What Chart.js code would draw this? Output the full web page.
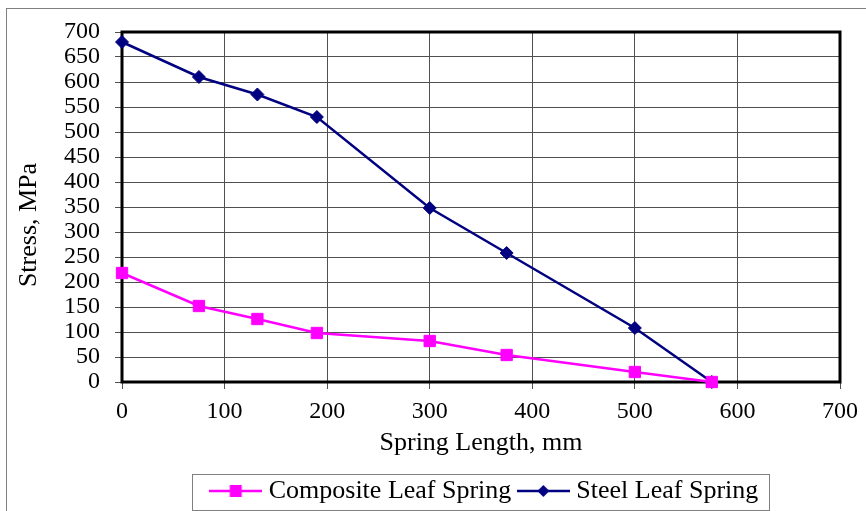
<!DOCTYPE html>
<html>
<head>
<meta charset="utf-8">
<script src="https://cdn.jsdelivr.net/npm/chart.js@4/dist/chart.umd.min.js"></script>
<style>
html, body { margin: 0; padding: 0; background: #fff; }
#wrap { width: 866px; height: 511px; }
</style>
</head>
<body>
<div id="wrap"><canvas id="stressChart" width="866" height="511"></canvas></div>
<script>
// spring length (mm) at each measuring point
const lengthMm = [0, 75, 132, 190, 300, 375, 500, 575];
const compositeStress = [218, 152, 126, 98, 82, 54, 20, 0];
const steelStress = [680, 610, 575, 530, 348, 258, 108, 0];

const xTicks = [0, 100, 200, 300, 400, 500, 600, 700];
const yTicks = [0, 50, 100, 150, 200, 250, 300, 350, 400, 450, 500, 550, 600, 650, 700];

const yTitle = "Stress, MPa";
const xTitle = "Spring Length, mm";

const FONT = "'Liberation Serif', 'Times New Roman', serif";

function legendIcon(color, shape){
  const c = document.createElement("canvas");
  c.width = 53;
  c.height = 18;
  const g = c.getContext("2d");
  g.strokeStyle = color;
  g.lineWidth = 2.5;
  g.beginPath();
  g.moveTo(0, 9);
  g.lineTo(53, 9);
  g.stroke();
  g.fillStyle = color;
  g.beginPath();
  if(shape === "square"){
    g.rect(20.5, 3, 12, 12);
  }else{
    g.moveTo(26.5, 3);
    g.lineTo(32.5, 9);
    g.lineTo(26.5, 15);
    g.lineTo(20.5, 9);
    g.closePath();
  }
  g.fill();
  return c;
}

function pairs(xs, ys){
  return xs.map(function(x, i){ return {x: x, y: ys[i]}; });
}

const frames = {
  id: "frames",
  afterLayout(chart){
    // centre the legend under the plot area and drop it to the bottom
    const lg = chart.legend;
    const a = chart.chartArea;
    const dx = (a.left + a.right) / 2 + 6 - (lg.left + lg.right) / 2;
    lg.left += dx;
    lg.right += dx;
    const h = lg.bottom - lg.top;
    lg.top = 466;
    lg.bottom = lg.top + h;
  },
  beforeDatasetsDraw(chart){
    const a = chart.chartArea;
    const ctx = chart.ctx;
    ctx.save();
    ctx.strokeStyle = "#000";
    ctx.lineWidth = 3;
    ctx.strokeRect(a.left, a.top, a.right - a.left, a.bottom - a.top);
    ctx.restore();
  },
  afterDraw(chart){
    const ctx = chart.ctx;
    ctx.save();
    // outer chart frame
    ctx.strokeStyle = "#808080";
    ctx.lineWidth = 1;
    ctx.strokeRect(6.5, 8.5, 900, 600);
    // y axis title, sitting a little below the axis middle as in the original
    ctx.fillStyle = "#000";
    ctx.font = "26px " + FONT;
    ctx.textAlign = "center";
    ctx.textBaseline = "middle";
    ctx.translate(29, 225);
    ctx.rotate(-Math.PI / 2);
    ctx.fillText(yTitle, 0, 0);
    ctx.setTransform(1, 0, 0, 1, 0, 0);
    // legend box
    const boxes = chart.legend.legendHitBoxes;
    if(boxes && boxes.length){
      let l = Infinity, r = -Infinity;
      boxes.forEach(function(hb){
        l = Math.min(l, hb.left);
        r = Math.max(r, hb.left + hb.width);
      });
      ctx.strokeStyle = "#808080";
      ctx.strokeRect(Math.round(l - 24) + 0.5, 474.5, Math.round(r - l + 34), 36);
    }
    ctx.restore();
  }
};

new Chart(
  document.getElementById("stressChart"),
  {
    type: "line",
    data: {
      datasets: [
        {
          label: "Composite Leaf Spring",
          data: pairs(lengthMm, compositeStress),
          borderColor: "#FF00FF",
          backgroundColor: "#FF00FF",
          borderWidth: 2.5,
          pointStyle: "rect",
          pointRadius: 8,
          pointHoverRadius: 8,
          pointBorderWidth: 1,
          tension: 0,
          clip: false
        },
        {
          label: "Steel Leaf Spring",
          data: pairs(lengthMm, steelStress),
          borderColor: "#000080",
          backgroundColor: "#000080",
          borderWidth: 2.5,
          pointStyle: "rectRot",
          pointRadius: 6.5,
          pointHoverRadius: 6.5,
          pointBorderWidth: 1,
          tension: 0,
          clip: false
        }
      ]
    },
    options: {
      responsive: false,
      animation: false,
      events: [],
      layout: {
        padding: {left: 6, top: 32, right: 24, bottom: 4}
      },
      scales: {
        x: {
          type: "linear",
          min: 0,
          max: 700,
          afterBuildTicks(scale){
            scale.ticks = xTicks.map(function(v){ return {value: v}; });
          },
          afterFit(scale){ scale.height = 77; },
          grid: {color: "#505050", lineWidth: 1, tickLength: 7, drawTicks: true},
          border: {display: false},
          ticks: {color: "#000", font: {family: FONT, size: 24}, padding: 8, maxRotation: 0, autoSkip: false},
          title: {
            display: true,
            text: xTitle,
            color: "#000",
            font: {family: FONT, size: 26},
            padding: {top: 0, bottom: 0}
          }
        },
        y: {
          min: 0,
          max: 700,
          afterBuildTicks(scale){
            scale.ticks = yTicks.map(function(v){ return {value: v}; });
          },
          afterFit(scale){ scale.width = 116; },
          grid: {color: "#505050", lineWidth: 1, tickLength: 7, drawTicks: true},
          border: {display: false},
          ticks: {color: "#000", font: {family: FONT, size: 24}, padding: 15, autoSkip: false},
          title: {display: false}
        }
      },
      plugins: {
        legend: {
          position: "bottom",
          labels: {
            color: "#000",
            font: {family: FONT, size: 26},
            usePointStyle: true,
            pointStyleWidth: 40,
            boxHeight: 18,
            padding: 12,
            generateLabels(chart){
              return chart.data.datasets.map(function(ds, i){
                return {
                  text: ds.label,
                  pointStyle: legendIcon(ds.borderColor, i === 0 ? "square" : "diamond"),
                  fillStyle: ds.borderColor,
                  strokeStyle: ds.borderColor,
                  lineWidth: 0,
                  datasetIndex: i,
                  hidden: false
                };
              });
            }
          }
        },
        tooltip: {enabled: false}
      }
    },
    plugins: [frames]
  }
);
</script>
</body>
</html>
